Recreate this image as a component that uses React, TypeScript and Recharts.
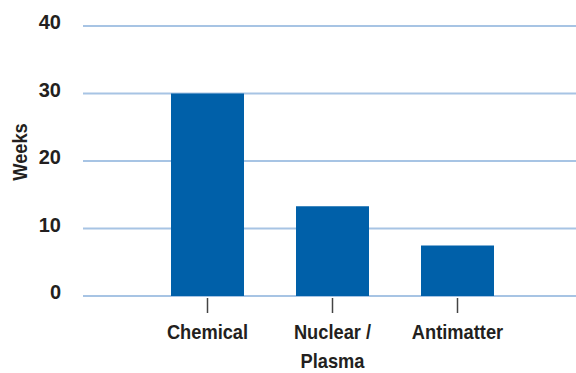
import React from 'react';
import { BarChart, Bar, XAxis, YAxis, CartesianGrid } from 'recharts';

const categories = ['Chemical', 'Nuclear /\nPlasma', 'Antimatter'];
const weeks = [30, 13.3, 7.5];
const yTicks = [0, 10, 20, 30, 40];

const data = categories.map((name, i) => ({ name, weeks: weeks[i] }));

const TEXT = '#231f20';
const FONT = '"Liberation Sans", Arial, sans-serif';
// no condensed face installed, so squeeze the regular bold one
const SQUEEZE = 0.87;

const CategoryTick = ({ x, y, payload }: any) => {
  const lines = String(payload.value).split('\n');
  return (
    <g>
      <line x1={x} x2={x} y1={y + 2} y2={y + 17} stroke="#444" strokeWidth={1.5} />
      {lines.map((line, i) => (
        <text
          key={i}
          transform={`translate(${x},${y + 43 + i * 29}) scale(${SQUEEZE},1)`}
          textAnchor="middle"
          fill={TEXT}
          fontFamily={FONT}
          fontWeight="bold"
          fontSize={21}
        >
          {line}
        </text>
      ))}
    </g>
  );
};

const ValueTick = ({ x, y, payload }: any) => (
  <text
    x={x}
    y={y + 3}
    textAnchor="end"
    fill={TEXT}
    fontFamily={FONT}
    fontWeight="bold"
    fontSize={20}
  >
    {payload.value}
  </text>
);

const WeeksLabel = () => (
  <text
    transform={`translate(27,152) rotate(-90) scale(${SQUEEZE},1)`}
    textAnchor="middle"
    fill={TEXT}
    fontFamily={FONT}
    fontWeight="bold"
    fontSize={21}
  >
    Weeks
  </text>
);

const App: React.FC = () => {
  return (
    <div style={{ position: 'absolute', left: 0, top: 0, background: '#fff' }}>
      <BarChart width={576} height={373} data={data} margin={{ top: 26, right: 0, bottom: 0, left: 0 }}>
        <CartesianGrid vertical={false} stroke="#a7c4e4" strokeWidth={2} />
        <XAxis
          dataKey="name"
          height={77}
          axisLine={false}
          tickLine={false}
          tickSize={0}
          tickMargin={0}
          padding={{ left: 62, right: 56 }}
          interval={0}
          tick={<CategoryTick />}
        />
        <YAxis
          width={83}
          domain={[0, 40]}
          ticks={yTicks}
          axisLine={false}
          tickLine={false}
          tickSize={0}
          tickMargin={22}
          tick={<ValueTick />}
          label={<WeeksLabel />}
        />
        <Bar dataKey="weeks" fill="#0060a9" barSize={73} isAnimationActive={false} />
      </BarChart>
    </div>
  );
};

export default App;
